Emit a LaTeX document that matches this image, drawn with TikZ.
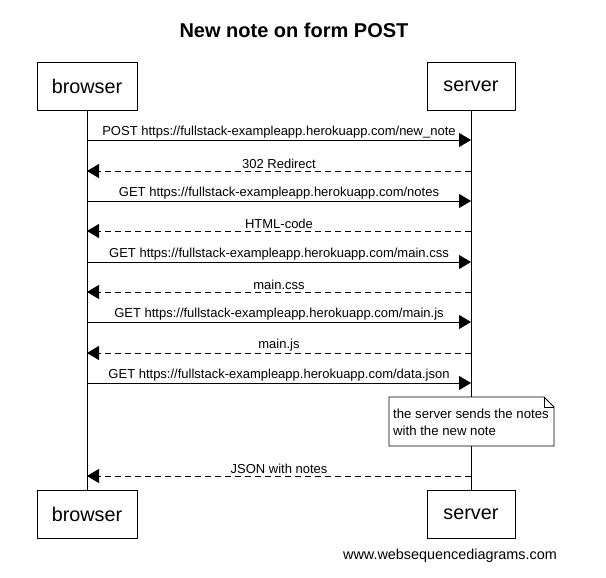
\documentclass[tikz,border=0pt]{standalone}
\usepackage{fontspec}
\setmainfont{Liberation Sans}
\usetikzlibrary{arrows.meta}
\begin{document}
\begin{tikzpicture}[x=1pt,y=-1pt,
  actor/.style={draw,line width=0.9pt,minimum width=100pt,minimum height=48pt,inner sep=0pt,font=\fontsize{19.8}{23}\selectfont},
  msg/.style={line width=0.8pt,-{Triangle[length=12pt,width=14pt]}},
  reply/.style={msg,dash pattern=on 6pt off 4pt},
  lbl/.style={anchor=south,inner sep=1.5pt,font=\fontsize{13}{15}\selectfont},
  life/.style={line width=0.8pt}]
\useasboundingbox (0,0) rectangle (606,578);
\node[font=\bfseries\fontsize{20}{23}\selectfont] (title) at (294,30) {New note on form POST};
\node[actor] (bt) at (87,86) {browser};
\node[actor,minimum width=88pt] (st) at (471,86) {server};
\node[actor] (bb) at (87,514) {browser};
\node[actor,minimum width=88pt] (sb) at (471,514) {server};
\draw[life] (bt.south) -- (bb.north);
\draw[life] (st.south) -- (sb.north);
\foreach \y/\t in {140/{POST https://fullstack-exampleapp.herokuapp.com/new\_note},
  201/{GET https://fullstack-exampleapp.herokuapp.com/notes},
  262/{GET https://fullstack-exampleapp.herokuapp.com/main.css},
  322/{GET https://fullstack-exampleapp.herokuapp.com/main.js},
  383/{GET https://fullstack-exampleapp.herokuapp.com/data.json}}{
  \coordinate (L\y) at (87,\y);
  \coordinate (R\y) at (471,\y);
  \draw[msg] (L\y) -- (R\y) node[midway,lbl] {\t};
}
\foreach \y/\t in {171/{302 Redirect},231/{HTML-code},292/{main.css},353/{main.js},476/{JSON with notes}}{
  \coordinate (L\y) at (87,\y);
  \coordinate (R\y) at (471,\y);
  \draw[reply] (R\y) -- (L\y) node[midway,lbl] {\t};
}
\draw[line width=0.8pt,fill=white] (389,397) -- (544,397) -- (554,407) -- (554,446) -- (389,446) -- cycle;
\draw[line width=0.8pt] (544,397) -- (544,407) -- (554,407);
\node[anchor=north west,align=left,inner sep=0pt,font=\fontsize{13.2}{16.5}\selectfont] (note) at (393,409) {the server sends the notes\\with the new note};
\node[font=\fontsize{14.4}{17}\selectfont] (foot) at (450,556) {www.websequencediagrams.com};
\end{tikzpicture}
\end{document}
